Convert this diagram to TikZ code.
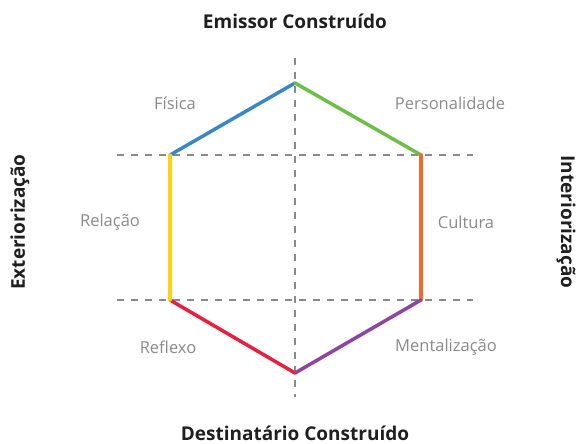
\documentclass[tikz,border=0pt]{standalone}
\usepackage{fontspec}
\setmainfont{Open Sans}
\usepackage{tikz}
\usetikzlibrary{positioning}
\definecolor{hexblue}{HTML}{3A87C8}
\definecolor{hexgreen}{HTML}{6DBE45}
\definecolor{hexorange}{HTML}{F26A2A}
\definecolor{hexpurple}{HTML}{8E44A0}
\definecolor{hexred}{HTML}{E8203F}
\definecolor{hexyellow}{HTML}{FFD10F}
\definecolor{axisgray}{HTML}{8A8A8A}
\tikzset{
		axis line/.style={axisgray, line width=1.8pt, dash pattern=on 7pt off 7pt},
		side/.style={line width=3.5pt, line cap=round},
		pole/.style={font=\bfseries\fontsize{19}{22}\selectfont, text=black!88},
		facet/.style={font=\fontsize{16.5}{19}\selectfont, text=axisgray}
	}

\begin{document}
\begin{tikzpicture}[x=1pt,y=-1pt]
				\useasboundingbox (0,0) rectangle (579,444);
				% ends of the axes
				\coordinate (vtop) at (295,58);
				\coordinate (vbot) at (295,397);
				\coordinate (hl1)  at (117,155);
				\coordinate (hr1)  at (473,155);
				\coordinate (hl2)  at (117,300);
				\coordinate (hr2)  at (473,300);
				% corners of the hexagon
				\coordinate (t)  at (295,83);
				\coordinate (tr) at (421,155);
				\coordinate (br) at (421,300);
				\coordinate (b)  at (295,373);
				\coordinate (bl) at (170,300);
				\coordinate (tl) at (170,155);

				\draw[axis line] (vtop) -- (vbot);
				\draw[axis line] (hl1) -- (hr1);
				\draw[axis line] (hl2) -- (hr2);

				\draw[side, hexblue]   (tl) -- (t);
				\draw[side, hexgreen]  (t)  -- (tr);
				\draw[side, hexorange] (tr) -- (br);
				\draw[side, hexpurple] (br) -- (b);
				\draw[side, hexred]    (b)  -- (bl);
				\draw[side, hexyellow] (bl) -- (tl);

				\node[pole] (emissor)      at (295,21)  {Emissor Construído};
				\node[pole] (destinatario) at (295,433) {Destinatário Construído};
				\node[pole, rotate=90]  (exterior) at (20,222)  {Exteriorização};
				\node[pole, rotate=-90] (interior) at (566,222) {Interiorização};

				\node[facet] (fisica)        at (175,103) {Física};
				\node[facet] (personalidade) at (450,103) {Personalidade};
				\node[facet] (relacao)       at (110,222) {Relação};
				\node[facet] (cultura)       at (466,222) {Cultura};
				\node[facet] (reflexo)       at (168,347) {Reflexo};
				\node[facet] (mentalizacao)  at (446,347) {Mentalização};
			\end{tikzpicture}
\end{document}
